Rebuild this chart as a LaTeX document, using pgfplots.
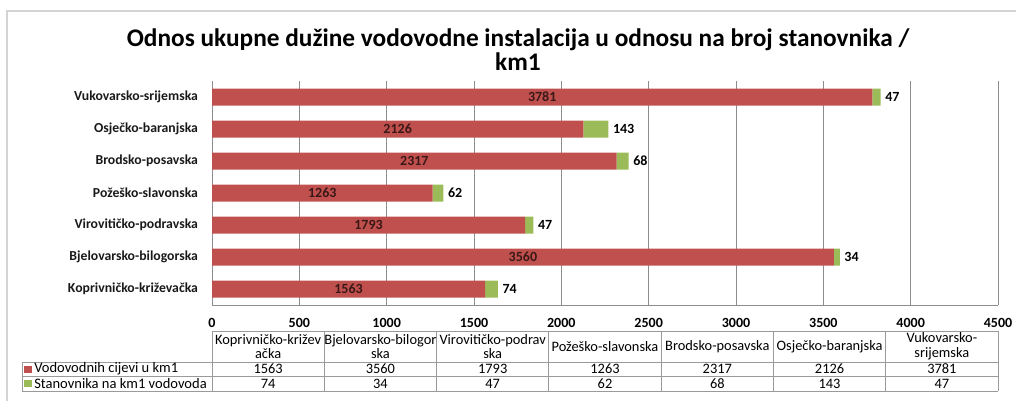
\documentclass[border=0pt]{standalone}
\usepackage{pgfplots}
\pgfplotsset{compat=1.18}
\usepackage{fontspec}
\setmainfont{Carlito}
\definecolor{cRed}{HTML}{C0504D}
\definecolor{cGreen}{HTML}{9BBB59}
\definecolor{cGrid}{HTML}{8C8C8C}
\definecolor{cFrame}{HTML}{D4D4D4}
\definecolor{cTab}{HTML}{9A9A9A}
\begin{document}
\begin{tikzpicture}
\useasboundingbox (0,0) rectangle (762pt,300.75pt);
\begin{axis}[
  at={(159pt,72pt)}, anchor=south west,
  scale only axis, width=589.5pt, height=168pt,
  xbar stacked, bar width=12.75pt,
  xmin=0, xmax=4500, ymin=-0.5, ymax=6.5,
  enlargelimits=false,
  xtick={0,500,...,4500},
  ytick={0,...,6},
  yticklabels={Koprivničko-križevačka, Bjelovarsko-bilogorska, Virovitičko-podravska, Požeško-slavonska, Brodsko-posavska, Osječko-baranjska, Vukovarsko-srijemska},
  xmajorgrids, major grid style={cGrid, line width=0.6pt},
  axis x line*=bottom, axis y line*=left,
  axis line style={cGrid, line width=0.6pt},
  major tick style={draw=none},
  xticklabel style={font=\bfseries\fontsize{10.5}{12}\selectfont, text=black, yshift=-6.5pt},
  yticklabel style={font=\bfseries\fontsize{10.3}{12}\selectfont, text=black!90, xshift=-7pt},
  ytick pos=left,
  /pgf/number format/assume math mode=true,
  /pgf/number format/set thousands separator={},
]
\addplot[fill=cRed, draw=none, point meta=explicit symbolic, nodes near coords,
  every node near coord/.append style={anchor=center,
    font=\bfseries\fontsize{10.5}{12}\selectfont, text=black!70!cRed}]
  coordinates {(1563,0) [1563] (3560,1) [3560] (1793,2) [1793] (1263,3) [1263] (2317,4) [2317] (2126,5) [2126] (3781,6) [3781]};
\addplot[fill=cGreen, draw=none, point meta=explicit symbolic, nodes near coords,
  visualization depends on={rawx \as \rawx},
  every node near coord/.append style={anchor=west, xshift={\rawx/4500*294.75},
    font=\bfseries\fontsize{10.5}{12}\selectfont, text=black}]
  coordinates {(74,0) [74] (34,1) [34] (47,2) [47] (62,3) [62] (68,4) [68] (143,5) [143] (47,6) [47]};
\end{axis}
\begin{scope}[x=0.75pt, y=-0.75pt, shift={(0pt,300.75pt)}]
  % outer frame
  \draw[cFrame, line width=1.2pt] (7,401) -- (7,11) -- (1016,11);
  % title
  \node[align=center, font=\bfseries\fontsize{19}{18.5}\selectfont] at (518,49.5)
    {Odnos ukupne dužine vodovodne instalacija u odnosu na broj stanovnika /\\km1};
  % data table grid
  \draw[cTab, line width=0.6pt] (212,331) -- (998,331);
  \foreach \yy in {362,376,391} \draw[cTab, line width=0.6pt] (22,\yy) -- (998,\yy);
  \draw[cTab, line width=0.6pt] (22,362) -- (22,391);
  \foreach \k in {0,...,7} \draw[cTab, line width=0.6pt] ({212+112.286*\k},331) -- ({212+112.286*\k},391);
  % table contents
  \foreach \i/\h/\a/\b in {
      0/{Koprivničko-križev\\ačka}/1563/74,
      1/{Bjelovarsko-bilogor\\ska}/3560/34,
      2/{Virovitičko-podrav\\ska}/1793/47,
      3/{Požeško-slavonska}/1263/62,
      4/{Brodsko-posavska}/2317/68,
      5/{Osječko-baranjska}/2126/143,
      6/{Vukovarsko-\\srijemska}/3781/47} {
    \node[align=center, font=\fontsize{10.8}{11}\selectfont, inner sep=0pt] at ({212+112.286*(\i+0.5)},346.5) {\h};
    \node[font=\fontsize{10.8}{11}\selectfont, inner sep=0pt] at ({212+112.286*(\i+0.5)},369) {\a};
    \node[font=\fontsize{10.8}{11}\selectfont, inner sep=0pt] at ({212+112.286*(\i+0.5)},383.5) {\b};
  }
  % legend keys
  \fill[cRed] (24,366) rectangle (32,373);
  \fill[cGreen] (24,380) rectangle (32,387);
  \node[anchor=west, font=\fontsize{10.9}{11}\selectfont, inner sep=0pt] at (34,369) {Vodovodnih cijevi u km1};
  \node[anchor=west, font=\fontsize{10.9}{11}\selectfont, inner sep=0pt] at (34,383.5) {Stanovnika na km1 vodovoda};
\end{scope}
\end{tikzpicture}
\end{document}
